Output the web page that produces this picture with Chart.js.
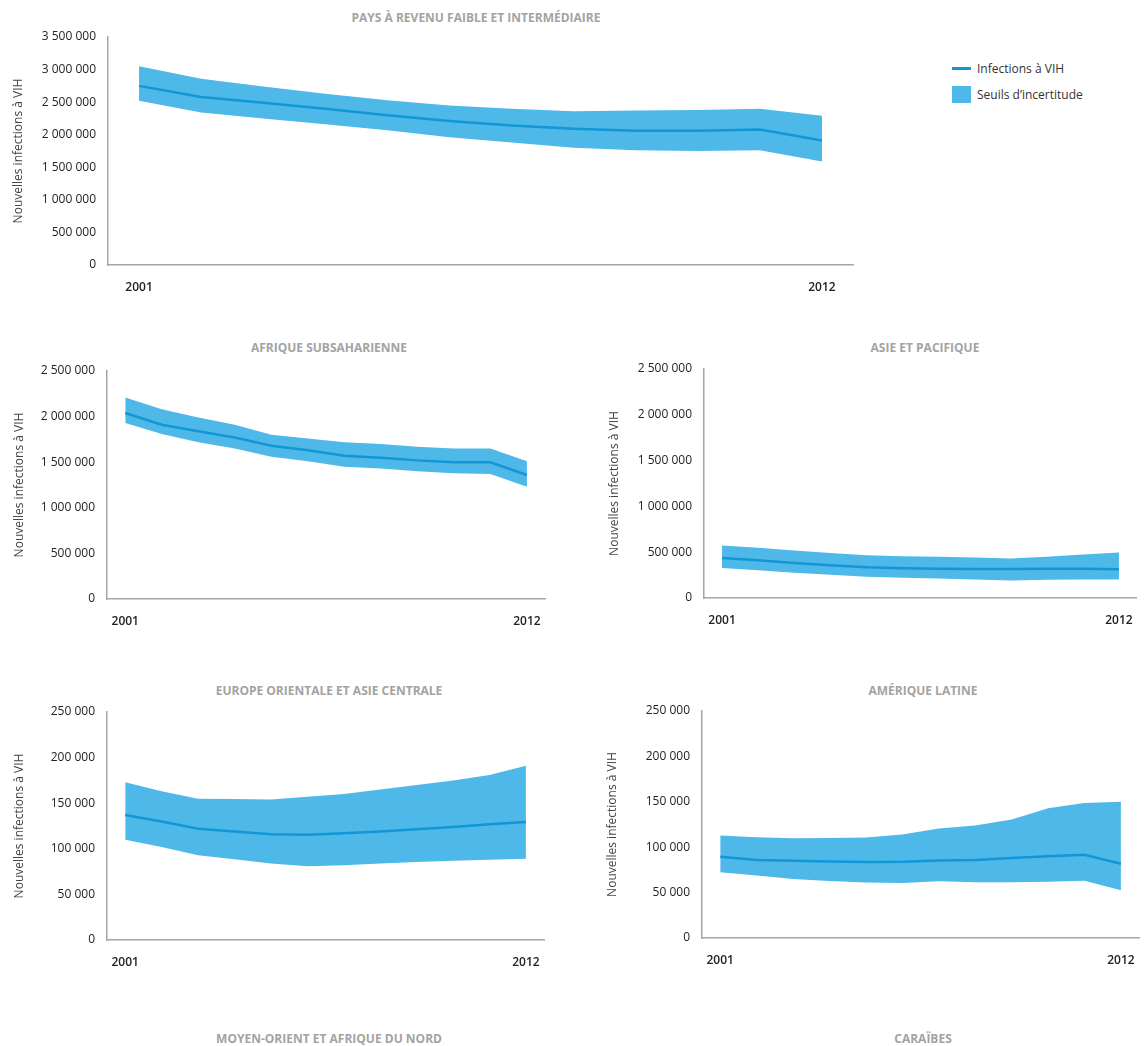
<!DOCTYPE html>
<html lang="fr">
<head>
<meta charset="utf-8">
<title>Nouvelles infections à VIH</title>
<script src="https://cdn.jsdelivr.net/npm/chart.js@4.4.1/dist/chart.umd.min.js"></script>
<style>
  html, body { margin: 0; padding: 0; background: #fff; }
  body { position: relative; width: 1146px; height: 1046px; overflow: hidden; font-family: "Open Sans", sans-serif; }
  .panel { position: absolute; }
  .title { position: absolute; transform: translate(-50%, -50%); white-space: nowrap;
           font-size: 12px; font-weight: bold; color: #a3a3a3; }
  .lg { position: absolute; }
  .lg-text { position: absolute; transform: translateY(-50%); font-size: 12px; color: #333; white-space: nowrap; }
</style>
</head>
<body>

<div class="lg" id="lgLine" style="left:952px; top:67px; width:19px; height:3px;"></div>
<div class="lg-text" style="left:977px; top:68px;">Infections à VIH</div>
<div class="lg" id="lgBox" style="left:952px; top:86px; width:19px; height:17px;"></div>
<div class="lg-text" style="left:977px; top:94px;">Seuils d’incertitude</div>

<script>
const years = ["2001", "2002", "2003", "2004", "2005", "2006", "2007", "2008", "2009", "2010", "2011", "2012"];

// Pays à revenu faible et intermédiaire
const worldMid  = [2750000, 2580000, 2490000, 2400000, 2300000, 2210000, 2140000, 2090000, 2060000, 2060000, 2080000, 1910000];
const worldHigh = [3050000, 2860000, 2740000, 2630000, 2530000, 2450000, 2400000, 2360000, 2370000, 2380000, 2400000, 2290000];
const worldLow  = [2520000, 2340000, 2250000, 2160000, 2070000, 1960000, 1880000, 1800000, 1760000, 1750000, 1760000, 1590000];

// Afrique subsaharienne
const ssaMid  = [2040000, 1910000, 1840000, 1770000, 1680000, 1630000, 1570000, 1550000, 1520000, 1500000, 1500000, 1360000];
const ssaHigh = [2210000, 2080000, 1990000, 1910000, 1800000, 1760000, 1720000, 1700000, 1670000, 1650000, 1650000, 1510000];
const ssaLow  = [1930000, 1810000, 1720000, 1650000, 1560000, 1510000, 1450000, 1430000, 1400000, 1380000, 1370000, 1230000];

// Asie et Pacifique
const asiaMid  = [438000, 413000, 383000, 357000, 335000, 324000, 320000, 317000, 316000, 318000, 318000, 313000];
const asiaHigh = [574000, 549000, 519000, 490000, 468000, 457000, 449000, 442000, 431000, 449000, 475000, 497000];
const asiaLow  = [328000, 302000, 276000, 254000, 232000, 221000, 214000, 203000, 192000, 199000, 203000, 203000];

// Europe orientale et Asie centrale
const eecaMid  = [137000, 130000, 122000, 119000, 116000, 115500, 117000, 119000, 121500, 124000, 127000, 129500];
const eecaHigh = [173000, 163000, 155000, 154500, 154000, 157000, 160000, 165000, 170000, 175000, 181000, 191000];
const eecaLow  = [110000, 102000, 93000, 88500, 84000, 81000, 82000, 84000, 85500, 87000, 88000, 89000];

// Amérique latine
const latMid  = [89500, 86000, 85000, 84300, 83600, 84000, 85400, 86000, 88000, 90000, 91700, 81700];
const latHigh = [112800, 111000, 109800, 110000, 110600, 114000, 120600, 124000, 130600, 142800, 148700, 150000];
const latLow  = [72500, 68800, 65000, 62900, 61000, 60700, 62500, 61400, 61400, 62000, 63000, 52500];

const BAND = "#4eb8e9";
const LINE = "#1396d6";
const AXIS_TITLE = "Nouvelles infections à VIH";

document.getElementById("lgLine").style.background = LINE;
document.getElementById("lgBox").style.background = BAND;

// plot area [left, top, right, bottom], title centre, y-axis title x
const panels = [
  { title: "PAYS À REVENU FAIBLE ET INTERMÉDIAIRE", mid: worldMid, high: worldHigh, low: worldLow,
    max: 3500000, step: 500000, area: [108, 37, 853, 263], titleAt: [476, 17], yTitleX: 18 },
  { title: "AFRIQUE SUBSAHARIENNE", mid: ssaMid, high: ssaHigh, low: ssaLow,
    max: 2500000, step: 500000, area: [107, 371, 548, 597], titleAt: [329, 347], yTitleX: 19 },
  { title: "ASIE ET PACIFIQUE", mid: asiaMid, high: asiaHigh, low: asiaLow,
    max: 2500000, step: 500000, area: [704, 369, 1140, 596], titleAt: [925, 347], yTitleX: 614 },
  { title: "EUROPE ORIENTALE ET ASIE CENTRALE", mid: eecaMid, high: eecaHigh, low: eecaLow,
    max: 250000, step: 50000, area: [107, 712, 547, 938], titleAt: [329, 690], yTitleX: 19 },
  { title: "AMÉRIQUE LATINE", mid: latMid, high: latHigh, low: latLow,
    max: 250000, step: 50000, area: [702, 711, 1142, 936], titleAt: [923, 690], yTitleX: 612 },
];

const extraTitles = [
  { title: "MOYEN-ORIENT ET AFRIQUE DU NORD", titleAt: [329, 1038] },
  { title: "CARAÏBES", titleAt: [923, 1038] },
];

function fmt(v) {
  return String(v).replace(/\B(?=(\d{3})+(?!\d))/g, " ");
}

function addTitle(p) {
  const t = document.createElement("div");
  t.className = "title";
  t.textContent = p.title;
  t.style.left = p.titleAt[0] + "px";
  t.style.top = p.titleAt[1] + "px";
  document.body.appendChild(t);
}

function makeChart(p) {
  const [L, T, R, B] = p.area;
  // padTop must exceed the y tick overflow (half label + tick padding)
  const padTop = 24, padRight = 8, xH = 40;
  const left = p.yTitleX - 10;
  const top = T - padTop;

  const box = document.createElement("div");
  box.className = "panel";
  box.style.left = left + "px";
  box.style.top = top + "px";
  box.style.width = (R + padRight - left) + "px";
  box.style.height = (B + 2 + xH - top) + "px";
  const canvas = document.createElement("canvas");
  box.appendChild(canvas);
  document.body.appendChild(box);

  new Chart(canvas.getContext("2d"), {
    type: "line",
    data: {
      labels: years,
      datasets: [
        { label: "Infections à VIH", data: p.mid, borderColor: LINE, borderWidth: 2.5,
          pointRadius: 0, fill: false, tension: 0 },
        { label: "bas", data: p.low, borderColor: "transparent", borderWidth: 0,
          pointRadius: 0, fill: false, tension: 0 },
        { label: "Seuils d’incertitude", data: p.high, borderColor: "transparent", borderWidth: 0,
          backgroundColor: BAND, pointRadius: 0, fill: "-1", tension: 0 },
      ],
    },
    options: {
      responsive: true,
      maintainAspectRatio: false,
      animation: false,
      layout: { padding: { top: padTop, right: padRight, left: 0, bottom: 0 } },
      plugins: { legend: { display: false }, tooltip: { enabled: false }, title: { display: false } },
      scales: {
        x: {
          offset: true,
          grid: { display: false, drawTicks: false },
          border: { display: true, color: "#a6a6a6", width: 1.5 },
          ticks: {
            autoSkip: false, maxRotation: 0, padding: 15,
            color: "#222", font: { family: "Open Sans", size: 12, weight: "600" },
            callback: function (v, i) {
              return i === 0 || i === years.length - 1 ? this.getLabelForValue(v) : "";
            },
          },
          afterFit: (s) => { s.height = xH; },
        },
        y: {
          min: 0, max: p.max,
          grid: { display: false, drawTicks: false },
          border: { display: true, color: "#a6a6a6", width: 1.5 },
          ticks: {
            stepSize: p.step, padding: 12, color: "#222",
            font: { family: "Open Sans", size: 12 },
            callback: (v) => fmt(v),
          },
          title: {
            display: true, text: AXIS_TITLE, color: "#444",
            font: { family: "Open Sans", size: 12 }, padding: { top: 3, bottom: 0 },
          },
          afterFit: (s) => { s.width = L - left; },
        },
      },
    },
  });
}

panels.forEach((p) => { addTitle(p); makeChart(p); });
extraTitles.forEach(addTitle);
</script>
</body>
</html>
